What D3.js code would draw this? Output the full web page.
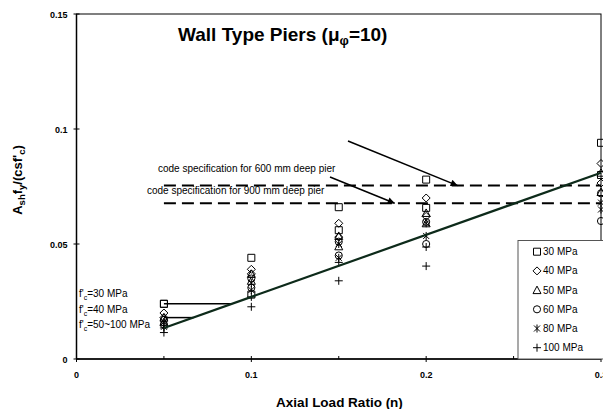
<!DOCTYPE html>
<html>
<head>
<meta charset="utf-8">
<script src="https://cdn.jsdelivr.net/npm/d3@7"></script>
<style>
body { margin: 0; background: #fff; }
text { font-family: Arial, "Liberation Sans", sans-serif; }
</style>
</head>
<body>
<div id="chart"></div>
<script>
// axial load ratios tested
var ratios = [0.05, 0.1, 0.15, 0.2, 0.3];
var strengths = ["30 MPa", "40 MPa", "50 MPa", "60 MPa", "80 MPa", "100 MPa"];
var symbols = ["square", "diamond", "triangle", "circle", "star", "plus"];

// Ash fy/(c s f'c), one row per strength (600 mm deep pier)
var pier600 = [
  [0.024, 0.044, 0.066, 0.078, 0.094],
  [0.020, 0.039, 0.059, 0.070, 0.085],
  [0.018, 0.037, 0.0535, 0.0635, 0.081],
  [0.017, 0.035, 0.051, 0.0596, 0.072],
  [0.016, 0.033, 0.050, 0.059, 0.068],
  [0.0135, 0.027, 0.042, 0.0487, 0.050]
];
// same, 900 mm deep pier
var pier900 = [
  [0.024, 0.028, 0.056, 0.0657, 0.080],
  [0.018, 0.037, 0.053, 0.062, 0.0765],
  [0.016, 0.034, 0.049, 0.059, 0.0726],
  [0.015, 0.031, 0.045, 0.050, 0.060],
  [0.014, 0.030, 0.044, 0.0535, 0.065],
  [0.0115, 0.0227, 0.034, 0.0404, 0.046]
];

// proposed design line
var trendRatio = [0.05, 0.3];
var trendValue = [0.0135, 0.081];

// code specification levels (600 mm, 900 mm)
var codeLevels = [0.0754, 0.0677];
var codeNotes = ["code specification for 600 mm deep pier", "code specification for 900 mm deep pier"];
var codeArrowEnd = [0.218, 0.182];

// f'c levels at n = 0.05 and where they meet the line
var levelValue = [0.024, 0.018];
var levelEnd = [0.089, 0.067];
var levelNames = ["=30 MPa", "=40 MPa", "=50~100 MPa"];

var xTicks = [0, 0.1, 0.2, 0.3];
var xMinor = [0.05, 0.15, 0.25];
var yTicks = [0, 0.05, 0.1, 0.15];

var width = 603, height = 409;
var svg = d3.select("#chart").append("svg")
  .attr("width", width)
  .attr("height", height)
  .style("display", "block");

var x = d3.scaleLinear().domain([0, 0.3]).range([76.5, 601]);
var y = d3.scaleLinear().domain([0, 0.15]).range([359, 14]);

svg.append("defs").append("marker")
  .attr("id", "arrow")
  .attr("viewBox", "0 0 10 10")
  .attr("refX", 10).attr("refY", 5)
  .attr("markerWidth", 9).attr("markerHeight", 7)
  .attr("markerUnits", "userSpaceOnUse")
  .attr("orient", "auto")
  .append("path").attr("d", "M0,0L10,5L0,10Z").attr("fill", "#000");

// plot frame
svg.append("rect")
  .attr("x", x(0)).attr("y", y(0.15))
  .attr("width", x(0.3) - x(0)).attr("height", y(0) - y(0.15))
  .attr("fill", "none").attr("stroke", "#000").attr("stroke-width", 1);

// axes
var ax = svg.append("g");
ax.append("line").attr("x1", x(0)).attr("x2", x(0.3)).attr("y1", y(0)).attr("y2", y(0))
  .attr("stroke", "#000").attr("stroke-width", 1.5);
ax.append("line").attr("x1", x(0)).attr("x2", x(0)).attr("y1", y(0)).attr("y2", y(0.15))
  .attr("stroke", "#000").attr("stroke-width", 1.5);

ax.selectAll(".xt").data(xTicks).enter().append("line")
  .attr("x1", d => x(d)).attr("x2", d => x(d))
  .attr("y1", y(0) - 3).attr("y2", y(0) + 3).attr("stroke", "#000");
ax.selectAll(".xm").data(xMinor).enter().append("line")
  .attr("x1", d => x(d)).attr("x2", d => x(d))
  .attr("y1", y(0) - 3).attr("y2", y(0)).attr("stroke", "#000");
ax.selectAll(".yt").data(yTicks).enter().append("line")
  .attr("x1", x(0) - 3).attr("x2", x(0) + 3)
  .attr("y1", d => y(d)).attr("y2", d => y(d)).attr("stroke", "#000");

ax.selectAll(".xl").data(xTicks).enter().append("text")
  .attr("x", d => x(d)).attr("y", y(0) + 19)
  .attr("text-anchor", "middle")
  .style("font-size", "9px").style("font-weight", "bold")
  .text(d => String(d));
ax.selectAll(".yl").data(yTicks).enter().append("text")
  .attr("x", x(0) - 9).attr("y", d => y(d) + 3.5)
  .attr("text-anchor", "end")
  .style("font-size", "9px").style("font-weight", "bold")
  .text(d => String(d));

svg.append("text")
  .attr("x", 339.5).attr("y", 407)
  .attr("text-anchor", "middle")
  .style("font-size", "13.5px").style("font-weight", "bold")
  .text("Axial Load Ratio (n)");

var yt = svg.append("text")
  .attr("transform", "translate(22,180) rotate(-90)")
  .attr("text-anchor", "middle")
  .style("font-size", "13px").style("font-weight", "bold");
yt.append("tspan").text("A");
yt.append("tspan").attr("dy", 3).style("font-size", "9.5px").text("sh");
yt.append("tspan").attr("dy", -3).text("f");
yt.append("tspan").attr("dy", 3).style("font-size", "9.5px").text("y");
yt.append("tspan").attr("dy", -3).text("/(csf'");
yt.append("tspan").attr("dy", 3).style("font-size", "9.5px").text("c");
yt.append("tspan").attr("dy", -3).text(")");

// title
var tt = svg.append("text")
  .attr("x", 178).attr("y", 41)
  .style("font-size", "19px").style("font-weight", "bold");
tt.append("tspan").text("Wall Type Piers (\u03bc");
tt.append("tspan").attr("dy", 4).style("font-size", "13px").text("\u03c6");
tt.append("tspan").attr("dy", -4).text("=10)");

// code specification lines
svg.selectAll(".code").data(codeLevels).enter().append("line")
  .attr("x1", x(0.05)).attr("x2", x(0.3))
  .attr("y1", d => y(d)).attr("y2", d => y(d))
  .attr("stroke", "#000").attr("stroke-width", 2)
  .attr("stroke-dasharray", "12,6");

var noteX = [158, 147], noteY = [172, 194];
var arrowStart = [[348, 141], [330, 177]];
codeNotes.forEach(function(t, i) {
  svg.append("text").attr("x", noteX[i]).attr("y", noteY[i])
    .style("font-size", "10px").text(t);
  svg.append("line")
    .attr("x1", arrowStart[i][0]).attr("y1", arrowStart[i][1])
    .attr("x2", x(codeArrowEnd[i])).attr("y2", y(codeLevels[i]))
    .attr("stroke", "#000").attr("stroke-width", 1.5)
    .attr("marker-end", "url(#arrow)");
});

// f'c level connectors
svg.selectAll(".lvl").data(levelValue).enter().append("line")
  .attr("x1", x(0.05)).attr("x2", (d, i) => x(levelEnd[i]))
  .attr("y1", d => y(d)).attr("y2", d => y(d))
  .attr("stroke", "#000").attr("stroke-width", 1.5);

var lblY = [297, 313, 328];
levelNames.forEach(function(t, i) {
  var lt = svg.append("text").attr("x", 79).attr("y", lblY[i]).style("font-size", "10px");
  lt.append("tspan").text("f'");
  lt.append("tspan").attr("dy", 3).style("font-size", "7px").text("c");
  lt.append("tspan").attr("dy", -3).text(t);
});

// markers
function markerPath(kind) {
  if (kind === "square") return "M-3.5,-3.5H3.5V3.5H-3.5Z";
  if (kind === "diamond") return "M0,-4L4,0L0,4L-4,0Z";
  if (kind === "triangle") return "M0,-4L4,3.5H-4Z";
  if (kind === "circle") return d3.symbol(d3.symbolCircle, 40)();
  if (kind === "star") return "M-3,-3L3,3M-3,3L3,-3M0,-4V4";
  return "M-4,0H4M0,-4V4";
}

var points = [];
strengths.forEach(function(s, i) {
  ratios.forEach(function(r, j) {
    points.push({ s: i, n: r, v: pier600[i][j] });
    points.push({ s: i, n: r, v: pier900[i][j] });
  });
});

svg.append("g").selectAll("path").data(points).enter().append("path")
  .attr("transform", d => "translate(" + x(d.n) + "," + y(d.v) + ")")
  .attr("d", d => markerPath(symbols[d.s]))
  .attr("fill", "none").attr("stroke", "#000").attr("stroke-width", 1);

// design line
svg.append("line")
  .attr("x1", x(trendRatio[0])).attr("y1", y(trendValue[0]))
  .attr("x2", x(trendRatio[1])).attr("y2", y(trendValue[1]))
  .attr("stroke", "#0d2a1a").attr("stroke-width", 2.2);

// legend
var lg = svg.append("g");
lg.append("rect").attr("x", 518).attr("y", 240.5).attr("width", 90).attr("height", 118.5)
  .attr("fill", "#fff").attr("stroke", "#555").attr("stroke-width", 1);
strengths.forEach(function(s, i) {
  var ly = 251.7 + i * 19.2;
  lg.append("path").attr("transform", "translate(537," + ly + ")")
    .attr("d", markerPath(symbols[i]))
    .attr("fill", "none").attr("stroke", "#000");
  lg.append("text").attr("x", 543).attr("y", ly + 3.5)
    .style("font-size", "10px").text(s);
});
</script>
</body>
</html>
